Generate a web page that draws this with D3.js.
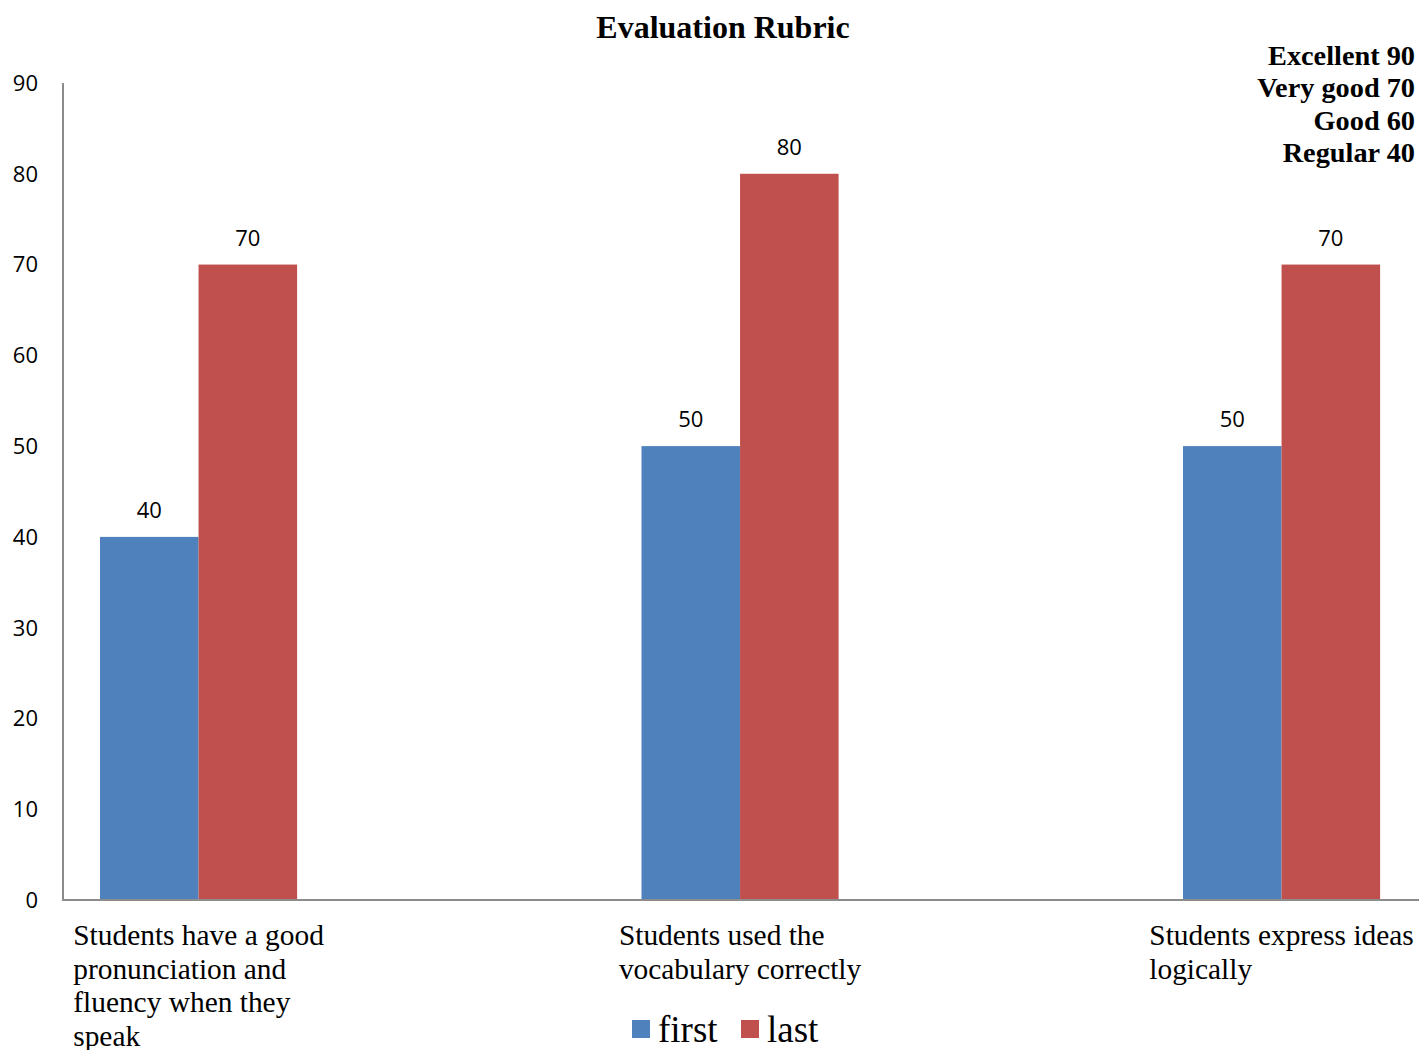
<!DOCTYPE html>
<html>
<head>
<meta charset="utf-8">
<script src="https://cdn.jsdelivr.net/npm/d3@7"></script>
<style>
  html, body { margin: 0; padding: 0; background: #fff; }
  svg { display: block; }
</style>
</head>
<body>
<svg id="chart" width="1419" height="1050"></svg>
<script>
// Rubric categories and the two evaluation rounds
const categories = [
  "Students have a good pronunciation and fluency when they speak",
  "Students used the vocabulary correctly",
  "Students express ideas logically"
];
const categoryLines = [
  ["Students have a good", "pronunciation and", "fluency when they", "speak"],
  ["Students used the", "vocabulary correctly"],
  ["Students express ideas", "logically"]
];
const seriesNames = ["first", "last"];
const firstValues = [40, 50, 50];
const lastValues = [70, 80, 70];
const yTicks = [0, 10, 20, 30, 40, 50, 60, 70, 80, 90];
const scaleNotes = ["Excellent 90", "Very good 70", "Good 60", "Regular 40"];

const colors = { first: "#4F81BD", last: "#C0504D" };
const serif = "'Liberation Serif', 'Times New Roman', serif";
const sans = "'Open Sans', 'Liberation Sans', sans-serif";

const svg = d3.select("#chart");

const plot = { left: 63, top: 83, bottom: 900, right: 1419 };

const y = d3.scaleLinear().domain([0, 90]).range([plot.bottom, plot.top]);

// category bands (the band layout extends past the visible frame on both sides)
const x = d3.scaleBand()
  .domain(categories)
  .range([-244.4, 1724.5])
  .paddingInner(0.636)
  .paddingOuter(0.636);

const xSub = d3.scaleBand().domain(seriesNames).range([0, x.bandwidth()]);

const rows = categories.map((c, i) => ({ cat: c, first: firstValues[i], last: lastValues[i] }));

// title
svg.append("text")
  .attr("x", 723).attr("y", 38)
  .attr("text-anchor", "middle")
  .style("font-family", serif).style("font-weight", "bold").style("font-size", "32px")
  .text("Evaluation Rubric");

// rating scale notes, top right
svg.append("g").selectAll("text").data(scaleNotes).join("text")
  .attr("x", 1415)
  .attr("y", (d, i) => 65 + i * 32.3)
  .attr("text-anchor", "end")
  .style("font-family", serif).style("font-weight", "bold").style("font-size", "28.3px")
  .text(d => d);

// y-axis labels
svg.append("g").selectAll("text").data(yTicks).join("text")
  .attr("x", 38)
  .attr("y", d => y(d))
  .attr("dy", "0.36em")
  .attr("text-anchor", "end")
  .style("font-family", sans).style("font-size", "22px").style("fill", "#000")
  .text(d => d);

// bars
const groups = svg.append("g").selectAll("g").data(rows).join("g")
  .attr("transform", d => `translate(${x(d.cat)},0)`);

groups.selectAll("rect")
  .data(d => seriesNames.map(s => ({ s, v: d[s] })))
  .join("rect")
  .attr("x", d => xSub(d.s))
  .attr("y", d => y(d.v))
  .attr("width", xSub.bandwidth())
  .attr("height", d => y(0) - y(d.v))
  .attr("fill", d => colors[d.s]);

// value labels
groups.selectAll("text.val")
  .data(d => seriesNames.map(s => ({ s, v: d[s] })))
  .join("text")
  .attr("class", "val")
  .attr("x", d => xSub(d.s) + xSub.bandwidth() / 2)
  .attr("y", d => y(d.v) - 19)
  .attr("text-anchor", "middle")
  .style("font-family", sans).style("font-size", "22px").style("fill", "#000")
  .text(d => d.v);

// axes lines
svg.append("line")
  .attr("x1", plot.left).attr("x2", plot.left)
  .attr("y1", y(90)).attr("y2", y(0))
  .attr("stroke", "#8c8c8c").attr("stroke-width", 2);
svg.append("line")
  .attr("x1", plot.left - 1).attr("x2", plot.right)
  .attr("y1", y(0)).attr("y2", y(0))
  .attr("stroke", "#8c8c8c").attr("stroke-width", 2);

// category labels: lines left-aligned, block centred under the bar pair
categories.forEach((c, i) => {
  const cx = x(c) + x.bandwidth() / 2;
  const t = svg.append("text")
    .style("font-family", serif).style("font-size", "29.4px").style("fill", "#000");
  const spans = t.selectAll("tspan").data(categoryLines[i]).join("tspan")
    .attr("dy", (d, j) => j === 0 ? 0 : 33.5)
    .text(d => d);
  let maxW = 0;
  spans.each(function () { maxW = Math.max(maxW, this.getComputedTextLength()); });
  const left = cx - maxW / 2;
  t.attr("y", 945);
  spans.attr("x", left);
});

// legend
const legend = svg.append("g");
const legendItems = [
  { s: "first", sx: 632, tx: 658 },
  { s: "last", sx: 741, tx: 767 }
];
legendItems.forEach(it => {
  legend.append("rect")
    .attr("x", it.sx).attr("y", 1020).attr("width", 18).attr("height", 18)
    .attr("fill", colors[it.s]);
  legend.append("text")
    .attr("x", it.tx).attr("y", 1042)
    .style("font-family", serif).style("font-size", "37px").style("fill", "#000")
    .text(it.s);
});
</script>
</body>
</html>
